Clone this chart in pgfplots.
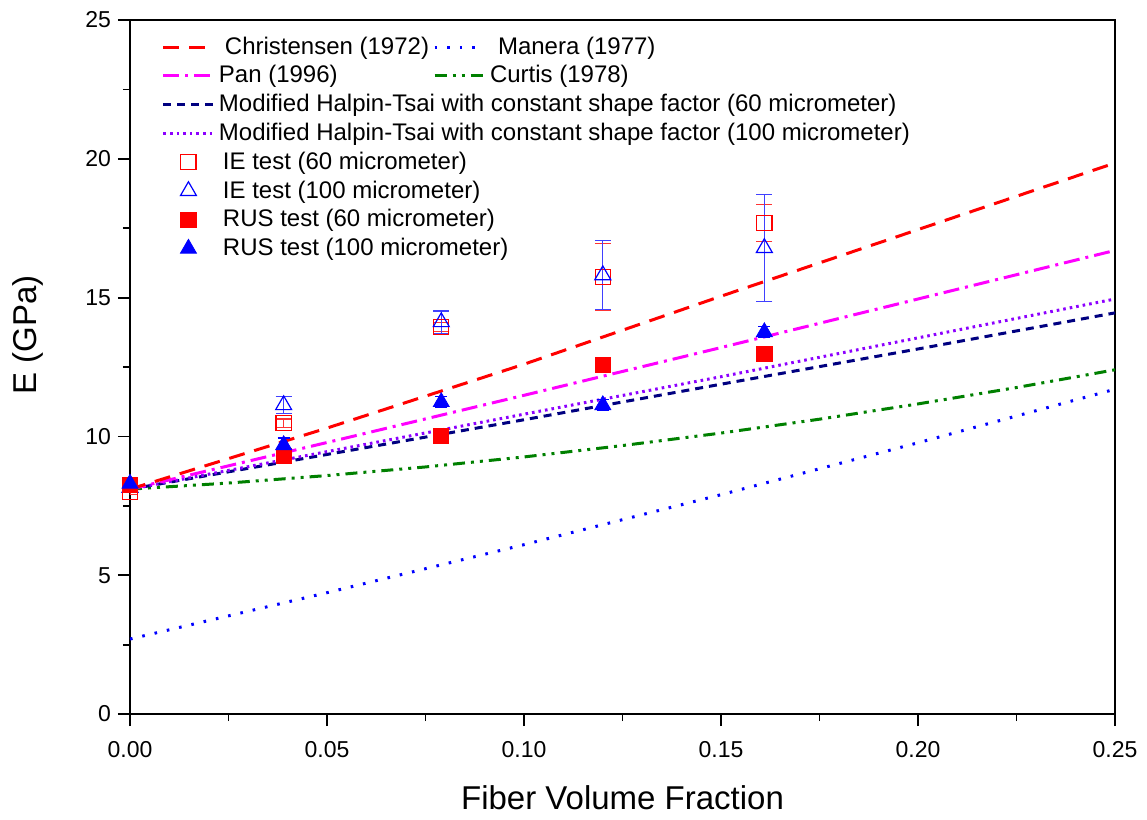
\documentclass[border=0pt]{standalone}
\usepackage{pgfplots}
\pgfplotsset{compat=1.18}
\usepackage{fontspec}
\setmainfont{Liberation Sans}
\definecolor{cgreen}{RGB}{0,128,0}
\definecolor{cnavy}{RGB}{0,0,128}
\definecolor{cviolet}{RGB}{140,0,255}
\definecolor{cmag}{RGB}{255,0,255}
\definecolor{cred}{RGB}{255,0,0}
\definecolor{cblue}{RGB}{0,0,255}
\begin{document}
\begin{tikzpicture}
\begin{axis}[
  scale only axis,
  width=492.5pt, height=347pt,
  xmin=0, xmax=0.25, ymin=0, ymax=25,
  xtick={0,0.05,0.1,0.15,0.2,0.25},
  ytick={0,5,10,15,20,25},
  minor x tick num=1, minor y tick num=1,
  tick align=outside,
  xtick pos=bottom, ytick pos=left,
  major tick length=6pt, minor tick length=3.5pt,
  every tick/.style={black, line width=0.9pt},
  axis line style={line width=1.3pt},
  /pgf/number format/assume math mode=true,
  xticklabel style={/pgf/number format/fixed, /pgf/number format/fixed zerofill, /pgf/number format/precision=2, font=\fontsize{11.5}{13}\selectfont, yshift=-4pt},
  yticklabel style={font=\fontsize{11.5}{13}\selectfont},
  xlabel={Fiber Volume Fraction}, ylabel={E (GPa)},
  every axis x label/.style={at={(rel axis cs:0.5,0)}, yshift=-42pt, anchor=center, font=\fontsize{16.5}{19}\selectfont},
  every axis y label/.style={at={(rel axis cs:0,0.546)}, xshift=-51pt, rotate=90, anchor=center, font=\fontsize{16.5}{19}\selectfont},
  legend columns=2,
  legend cell align=left,
  legend style={at={(0.03,0.985)}, anchor=north west, draw=none, fill=none, font=\fontsize{12}{14}\selectfont, row sep=0.2pt, inner sep=1pt},
  legend image code/.code={\draw[mark repeat=2,mark phase=2,#1] plot coordinates {(0pt,0pt) (12.5pt,0pt) (25pt,0pt)};},
]
% legend entries
\addlegendimage{cred, line width=1.5pt, dash pattern=on 8pt off 5pt}
\addlegendentry{\hspace{3pt}Christensen (1972)}
\addlegendimage{cblue, line width=1.5pt, dash pattern=on 1.3pt off 5pt}
\addlegendentry{\hspace{4pt}Manera (1977)}
\addlegendimage{cmag, line width=1.5pt, dash pattern=on 8pt off 3pt on 1.5pt off 3pt}
\addlegendentry{Pan (1996)}
\addlegendimage{cgreen, line width=1.5pt, dash pattern=on 6pt off 3pt on 1.5pt off 3pt on 1.5pt off 3pt}
\addlegendentry{Curtis (1978)}
\addlegendimage{cnavy, line width=1.5pt, dash pattern=on 4pt off 3pt}
\addlegendentry{\makebox[0pt][l]{Modified Halpin-Tsai with constant shape factor (60 micrometer)}}
\addlegendimage{empty legend}\addlegendentry{}
\addlegendimage{cviolet, line width=1.5pt, dash pattern=on 1.3pt off 2pt}
\addlegendentry{\makebox[0pt][l]{Modified Halpin-Tsai with constant shape factor (100 micrometer)}}
\addlegendimage{empty legend}\addlegendentry{}
\addlegendimage{only marks, mark=square, mark size=3.8pt, cred, mark options={line width=0.6pt}}
\addlegendentry{\makebox[0pt][l]{\hspace{2pt}IE test (60 micrometer)}}
\addlegendimage{empty legend}\addlegendentry{}
\addlegendimage{only marks, mark=triangle, mark size=4.6pt, cblue, mark options={line width=0.6pt}}
\addlegendentry{\makebox[0pt][l]{\hspace{2pt}IE test (100 micrometer)}}
\addlegendimage{empty legend}\addlegendentry{}
\addlegendimage{only marks, mark=square*, mark size=3.8pt, cred}
\addlegendentry{\makebox[0pt][l]{\hspace{2pt}RUS test (60 micrometer)}}
\addlegendimage{empty legend}\addlegendentry{}
\addlegendimage{only marks, mark=triangle*, mark size=4.6pt, cblue}
\addlegendentry{\makebox[0pt][l]{\hspace{2pt}RUS test (100 micrometer)}}
\addlegendimage{empty legend}\addlegendentry{}

% model curves
\addplot[forget plot, cgreen, line width=1.5pt, dash pattern=on 6pt off 3pt on 1.5pt off 3pt on 1.5pt off 3pt] coordinates {
(0,8.1)(0.025,8.32)(0.05,8.59)(0.075,8.90)(0.1,9.26)(0.125,9.67)(0.15,10.12)(0.175,10.62)(0.2,11.17)(0.225,11.76)(0.25,12.4)};
\addplot[forget plot, cblue, line width=1.5pt, dash pattern=on 1.3pt off 5pt] coordinates {
(0,2.7)(0.05,4.37)(0.1,6.1)(0.15,7.9)(0.2,9.77)(0.25,11.7)};
\addplot[forget plot, cnavy, line width=1.5pt, dash pattern=on 4pt off 3pt] coordinates {
(0,8.1)(0.05,9.35)(0.1,10.6)(0.15,11.88)(0.2,13.15)(0.25,14.45)};
\addplot[forget plot, cviolet, line width=1.5pt, dash pattern=on 1.3pt off 2pt] coordinates {
(0,8.1)(0.05,9.45)(0.1,10.8)(0.15,12.15)(0.2,13.55)(0.25,14.95)};
\addplot[forget plot, cmag, line width=1.5pt, dash pattern=on 8pt off 3pt on 1.5pt off 3pt] coordinates {
(0,8.1)(0.05,9.78)(0.1,11.48)(0.15,13.2)(0.2,14.95)(0.25,16.7)};
\addplot[forget plot, cred, line width=1.5pt, dash pattern=on 8pt off 5pt] coordinates {
(0,8.1)(0.05,10.3)(0.1,12.6)(0.15,15.05)(0.2,17.45)(0.25,19.85)};

% experimental data
\addplot[forget plot, only marks, mark=square, mark size=3.8pt, cred, mark options={line width=0.6pt},
  error bars/.cd, y dir=both, y explicit, error bar style={cred!80, line width=0.6pt}, error mark options={rotate=90, mark size=4pt, cred!80, line width=0.6pt}]
  coordinates {
(0,8.0) +- (0,0.1)
(0.039,10.48) +- (0,0.15)
(0.079,13.94) +- (0,0.15)
(0.12,15.74) +- (0,1.2)
(0.161,17.69) +- (0,0.67)};
\addplot[forget plot, only marks, mark=triangle, mark size=4.6pt, cblue, mark options={line width=0.6pt},
  error bars/.cd, y dir=both, y explicit, error bar style={cblue!75, line width=0.6pt}, error mark options={rotate=90, mark size=4pt, cblue!75, line width=0.6pt}]
  coordinates {
(0,8.15) +- (0,0.1)
(0.039,11.13) +- (0,0.3)
(0.079,14.12) +- (0,0.4)
(0.12,15.81) +- (0,1.25)
(0.161,16.79) +- (0,1.92)};
\addplot[forget plot, only marks, mark=square*, mark size=3.8pt, cred,
  error bars/.cd, y dir=both, y explicit, error bar style={cred, line width=0.6pt}, error mark options={rotate=90, mark size=3pt, cred, line width=0.6pt}]
  coordinates {
(0,8.25) +- (0,0.1)
(0.039,9.29) +- (0,0.15)
(0.079,10.01) +- (0,0.1)
(0.12,12.57) +- (0,0.1)
(0.161,12.97) +- (0,0.1)};
\addplot[forget plot, only marks, mark=triangle*, mark size=4.6pt, cblue,
  error bars/.cd, y dir=both, y explicit, error bar style={cblue, line width=0.6pt}, error mark options={rotate=90, mark size=3pt, cblue, line width=0.6pt}]
  coordinates {
(0,8.3) +- (0,0.1)
(0.039,9.69) +- (0,0.25)
(0.079,11.24) +- (0,0.2)
(0.12,11.13) +- (0,0.2)
(0.161,13.76) +- (0,0.2)};
\end{axis}
\pgfresetboundingbox
\path[use as bounding box] ([xshift=-65pt,yshift=-52.5pt]current axis.south west) rectangle ([xshift=16pt,yshift=10pt]current axis.north east);
\end{tikzpicture}
\end{document}
